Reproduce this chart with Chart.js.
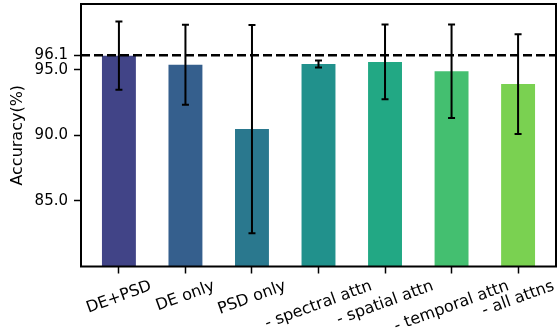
<!DOCTYPE html>
<html>
<head>
<meta charset="utf-8">
<script src="https://cdn.jsdelivr.net/npm/chart.js@4.4.0/dist/chart.umd.min.js"></script>
<style>
html,body{margin:0;padding:0;background:#fff;}
#wrap{width:557px;height:329px;}
</style>
</head>
<body>
<div id="wrap"><canvas id="c" width="557" height="329"></canvas></div>
<script>
const categories = ['DE+PSD', 'DE only', 'PSD only', '- spectral attn', '- spatial attn', '- temporal attn', '- all attns'];
const means = [96.06, 95.37, 90.47, 95.43, 95.59, 94.87, 93.90];
const stds = [2.60, 3.04, 7.93, 0.26, 2.84, 3.56, 3.80];
const colors = ['#414487', '#355f8d', '#2a788e', '#21918c', '#22a884', '#44bf70', '#7ad151'];
const yTicks = [85.0, 90.0, 95.0, 96.1];
const referenceLine = 96.1;
const yMin = 80, yMax = 100;

const FONT = 'DejaVu Sans';
const zeroPad = s => { s.paddingTop = 0; s.paddingBottom = 0; s.paddingLeft = 0; s.paddingRight = 0; };
const overlay = {
  id: 'overlay',
  afterDatasetsDraw(chart) {
    const {ctx, chartArea: a, scales: {x, y}} = chart;
    ctx.save();
    ctx.strokeStyle = '#000';
    ctx.lineWidth = 2.5;
    ctx.setLineDash([9, 4]);
    const yy = y.getPixelForValue(referenceLine);
    ctx.beginPath(); ctx.moveTo(a.left, yy); ctx.lineTo(a.right, yy); ctx.stroke();
    ctx.setLineDash([]);
    ctx.lineWidth = 2;
    means.forEach((m, i) => {
      const px = x.getPixelForValue(i);
      const t = y.getPixelForValue(m + stds[i]);
      const b = y.getPixelForValue(m - stds[i]);
      ctx.beginPath();
      ctx.moveTo(px, t); ctx.lineTo(px, b);
      ctx.moveTo(px - 3.5, t); ctx.lineTo(px + 3.5, t);
      ctx.moveTo(px - 3.5, b); ctx.lineTo(px + 3.5, b);
      ctx.stroke();
    });
    ctx.lineWidth = 2;
    ctx.strokeRect(a.left, a.top, a.right - a.left, a.bottom - a.top);
    ctx.restore();
  },
  afterDraw(chart) {
    const {ctx, chartArea: a, scales: {x}} = chart;
    ctx.save();
    ctx.font = '16px "' + FONT + '"';
    ctx.fillStyle = '#000';
    ctx.textAlign = 'center';
    ctx.textBaseline = 'middle';
    const ang = 20 * Math.PI / 180;
    const h = 18.5;
    const yTop = a.bottom + 10.5;
    categories.forEach((lab, i) => {
      const px = x.getPixelForValue(i);
      const w = ctx.measureText(lab).width;
      const H = w * Math.sin(ang) + h * Math.cos(ang);
      const cy = yTop + H / 2;
      ctx.save();
      ctx.translate(px, cy);
      ctx.rotate(-ang);
      ctx.fillText(lab, 0, 0);
      ctx.restore();
    });
    ctx.restore();
  }
};

new Chart(document.getElementById('c'), {
  type: 'bar',
  data: {
    datasets: [{
      data: means.map((v, i) => ({x: i, y: v})),
      backgroundColor: colors,
      borderWidth: 0,
      barPercentage: 0.51,
      categoryPercentage: 1.0
    }]
  },
  options: {
    responsive: false,
    animation: false,
    events: [],
    layout: {padding: {top: 4, right: 1, left: 0, bottom: 0}},
    plugins: {legend: {display: false}, tooltip: {enabled: false}},
    scales: {
      x: {
        type: 'linear',
        offset: false,
        min: -0.57, max: 6.57,
        afterBuildTicks: s => { s.ticks = categories.map((c, i) => ({value: i})); },
        afterFit: s => { s.height = 62.5; zeroPad(s); },
        ticks: {display: false},
        grid: {offset: false, drawOnChartArea: false, drawTicks: true, tickLength: 7, tickColor: '#000', tickWidth: 1.5},
        border: {display: false}
      },
      y: {
        min: yMin, max: yMax,
        afterBuildTicks: s => { s.ticks = yTicks.map(v => ({value: v})); },
        afterFit: s => { s.width = 81; zeroPad(s); },
        ticks: {
          callback: v => Number(v).toFixed(1),
          color: '#000',
          font: {family: FONT, size: 15},
          padding: 6,
          autoSkip: false
        },
        grid: {drawOnChartArea: false, drawTicks: true, tickLength: 7, tickColor: '#000', tickWidth: 1.5},
        border: {display: false},
        title: {display: true, text: 'Accuracy(%)', color: '#000', font: {family: FONT, size: 16}, padding: {top: 8, bottom: 0}}
      }
    }
  },
  plugins: [overlay]
});
</script>
</body>
</html>
